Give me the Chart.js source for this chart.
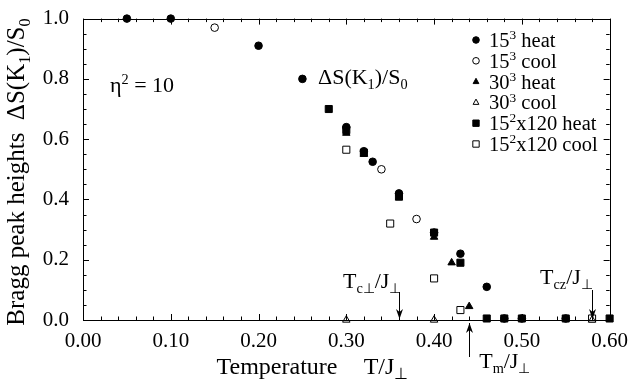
<!DOCTYPE html>
<html><head><meta charset="utf-8">
<script src="https://cdn.jsdelivr.net/npm/chart.js@4/dist/chart.umd.min.js"></script>
<style>html,body{margin:0;padding:0;background:#fff}#wrap{width:629px;height:382px}</style>
</head><body><div id="wrap"><canvas id="c" width="629" height="382"></canvas></div>
<script>
// ---- data (T/J_perp, Delta S(K1)/S0) ----
const heat15T = [0.05, 0.10, 0.20, 0.25, 0.30, 0.32, 0.33, 0.36, 0.40, 0.43, 0.46, 0.48, 0.50, 0.55];
const heat15V = [1.00, 1.00, 0.91, 0.80, 0.64, 0.56, 0.525, 0.42, 0.29, 0.22, 0.11, 0.005, 0.005, 0.005];
const cool15T = [0.15, 0.34, 0.38];
const cool15V = [0.97, 0.50, 0.335];
const heat30T = [0.30, 0.32, 0.36, 0.40, 0.42, 0.44];
const heat30V = [0.62, 0.55, 0.405, 0.275, 0.19, 0.045];
const cool30T = [0.30, 0.40, 0.58];
const cool30V = [0.00, 0.00, 0.00];
const heatLongT = [0.28, 0.30, 0.32, 0.36, 0.40, 0.43, 0.46, 0.48, 0.50, 0.55, 0.60];
const heatLongV = [0.70, 0.63, 0.555, 0.41, 0.29, 0.19, 0.005, 0.005, 0.005, 0.005, 0.005];
const coolLongT = [0.30, 0.35, 0.40, 0.43, 0.58];
const coolLongV = [0.565, 0.32, 0.138, 0.033, 0.005];
const xTickLabels = ["0.00","0.10","0.20","0.30","0.40","0.50","0.60"];
const yTickLabels = ["0.0","0.2","0.4","0.6","0.8","1.0"];
const seriesNames = [
  [["15"],["3","sup"],[" heat"]],
  [["15"],["3","sup"],[" cool"]],
  [["30"],["3","sup"],[" heat"]],
  [["30"],["3","sup"],[" cool"]],
  [["15"],["2","sup"],["x120 heat"]],
  [["15"],["2","sup"],["x120 cool"]]
];
const markers = [
  {style:'circle', fill:true}, {style:'circle', fill:false},
  {style:'triangle', fill:true}, {style:'triangle', fill:false},
  {style:'rect', fill:true}, {style:'rect', fill:false}
];
const Tc = 0.36, Tm = 0.44, Tcz = 0.58;

const pts = (t, v) => t.map((x, i) => ({x: x, y: v[i]}));
const seriesData = [pts(heat15T, heat15V), pts(cool15T, cool15V), pts(heat30T, heat30V),
                    pts(cool30T, cool30V), pts(heatLongT, heatLongV), pts(coolLongT, coolLongV)];
const radii = {circle: 3.8, triangle: 4.3, rect: 5.0};

const SERIF = '"Liberation Serif", "Times New Roman", serif';

function richWidth(ctx, segs, f) {
  let w = 0;
  for (const s of segs) {
    const sz = s[1] ? f * 0.65 : f;
    ctx.font = sz + 'px ' + SERIF;
    w += ctx.measureText(s[0]).width;
  }
  return w;
}
function drawRich(ctx, segs, x, y, f, align) {
  let w = richWidth(ctx, segs, f);
  let cx = align === 'center' ? x - w / 2 : (align === 'right' ? x - w : x);
  ctx.textAlign = 'left';
  ctx.textBaseline = 'alphabetic';
  for (const s of segs) {
    const sz = s[1] ? f * 0.65 : f;
    ctx.font = sz + 'px ' + SERIF;
    let dy = 0;
    if (s[1] === 'sub') dy = f * 0.22;
    if (s[1] === 'sup') dy = -f * 0.38;
    ctx.fillText(s[0], cx, y + dy);
    cx += ctx.measureText(s[0]).width;
  }
}
function drawMarker(ctx, m, x, y, r) {
  ctx.save();
  ctx.lineWidth = 1;
  ctx.strokeStyle = '#000';
  ctx.fillStyle = m.fill ? '#000' : '#fff';
  ctx.beginPath();
  if (m.style === 'circle') {
    ctx.arc(x, y, r, 0, Math.PI * 2);
  } else if (m.style === 'rect') {
    const s = r * Math.SQRT1_2;
    ctx.rect(x - s, y - s, 2 * s, 2 * s);
  } else {
    ctx.moveTo(x, y - r);
    ctx.lineTo(x + r * 0.87, y + r * 0.6);
    ctx.lineTo(x - r * 0.87, y + r * 0.6);
    ctx.closePath();
  }
  ctx.fill();
  ctx.stroke();
  ctx.restore();
}
function arrow(ctx, x, y1, y2) {
  ctx.beginPath();
  ctx.moveTo(x, y1); ctx.lineTo(x, y2); ctx.stroke();
  const d = y2 > y1 ? 1 : -1;
  ctx.beginPath();
  ctx.moveTo(x, y2);
  ctx.lineTo(x - 3.5, y2 - d * 10);
  ctx.lineTo(x, y2 - d * 7);
  ctx.lineTo(x + 3.5, y2 - d * 10);
  ctx.closePath();
  ctx.fill();
}

const decor = {
  id: 'decor',
  afterDraw(chart) {
    const ctx = chart.ctx, a = chart.chartArea;
    const xs = chart.scales.x, ys = chart.scales.y;
    ctx.save();
    ctx.strokeStyle = '#000'; ctx.fillStyle = '#000'; ctx.lineWidth = 1;
    ctx.strokeRect(Math.round(a.left) + 0.5, Math.round(a.top) + 0.5,
                   Math.round(a.right - a.left), Math.round(a.bottom - a.top));
    ctx.beginPath();
    for (let i = 0; i <= 30; i++) {
      const v = i * 0.02;
      const px = Math.round(xs.getPixelForValue(v)) + 0.5;
      const len = (i % 5 === 0) ? 6 : 3.5;
      ctx.moveTo(px, a.bottom); ctx.lineTo(px, a.bottom - len);
      ctx.moveTo(px, a.top); ctx.lineTo(px, a.top + len);
    }
    for (let i = 0; i <= 20; i++) {
      const v = i * 0.05;
      const py = Math.round(ys.getPixelForValue(v)) + 0.5;
      const len = (i % 4 === 0) ? 6 : 3.5;
      ctx.moveTo(a.left, py); ctx.lineTo(a.left + len, py);
      ctx.moveTo(a.right, py); ctx.lineTo(a.right - len, py);
    }
    ctx.stroke();

    // axis titles
    drawRich(ctx, [["Temperature"]], 277, 374, 24, 'center');
    drawRich(ctx, [["T/J"],["\u22a5","sub"]], 386, 374, 24, 'center');
    ctx.save();
    ctx.translate(24, 172);
    ctx.rotate(-Math.PI / 2);
    drawRich(ctx, [["Bragg peak heights  \u0394S(K"],["1","sub"],[")/S"],["0","sub"]], 0, 0, 25, 'center');
    ctx.restore();

    // in-plot annotations
    drawRich(ctx, [["\u03b7"],["2","sup"],[" = 10"]], 110, 92, 22, 'left');
    drawRich(ctx, [["\u0394S(K"],["1","sub"],[")/S"],["0","sub"]], 318, 84, 22, 'left');

    const xc = xs.getPixelForValue(Tc), xm = xs.getPixelForValue(Tm), xz = xs.getPixelForValue(Tcz);
    drawRich(ctx, [["T"],["c\u22a5","sub"],["/J"],["\u22a5","sub"]], xc - 56, 288, 22, 'left');
    arrow(ctx, Math.round(xc) + 0.5, 292, a.bottom - 1);
    drawRich(ctx, [["T"],["cz","sub"],["/J"],["\u22a5","sub"]], xz - 52, 284, 22, 'left');
    arrow(ctx, Math.round(xz) + 0.5, 290, a.bottom - 1);
    drawRich(ctx, [["T"],["m","sub"],["/J"],["\u22a5","sub"]], xm + 10, 368, 22, 'left');
    arrow(ctx, Math.round(xm) + 0.5, 357, a.bottom + 3);

    // legend
    for (let i = 0; i < 6; i++) {
      const y = 40 + i * 20.8;
      drawMarker(ctx, markers[i], 476, y, markers[i].style === 'rect' ? 4.5 : 3.3);
      drawRich(ctx, seriesNames[i], 489, y + 7, 20.5, 'left');
    }
    ctx.restore();
  }
};

const datasets = seriesData.map((d, i) => ({
  label: 's' + i,
  data: d,
  showLine: false,
  pointStyle: markers[i].style,
  pointRadius: radii[markers[i].style],
  pointHoverRadius: radii[markers[i].style],
  pointBackgroundColor: markers[i].fill ? '#000' : '#fff',
  pointBorderColor: '#000',
  pointBorderWidth: 1,
  clip: false
}));

new Chart(document.getElementById('c'), {
  type: 'scatter',
  data: {datasets: datasets},
  options: {
    responsive: false,
    animation: false,
    devicePixelRatio: 1,
    layout: {padding: {left: 0, top: 14, right: 19, bottom: 0}},
    plugins: {legend: {display: false}, tooltip: {enabled: false}},
    scales: {
      x: {
        type: 'linear', min: 0, max: 0.6,
        grid: {display: false}, border: {display: false},
        ticks: {stepSize: 0.1, maxRotation: 0, padding: 1, color: '#000',
                font: {family: SERIF, size: 21},
                callback: (v) => xTickLabels[Math.round(v * 10)]},
        afterFit: (s) => { s.height = 62; }
      },
      y: {
        type: 'linear', min: 0, max: 1.0,
        grid: {display: false}, border: {display: false},
        ticks: {stepSize: 0.2, padding: 6, color: '#000',
                font: {family: SERIF, size: 21},
                callback: (v) => yTickLabels[Math.round(v * 5)]},
        afterFit: (s) => { s.width = 83; }
      }
    }
  },
  plugins: [decor]
});
</script></body></html>
